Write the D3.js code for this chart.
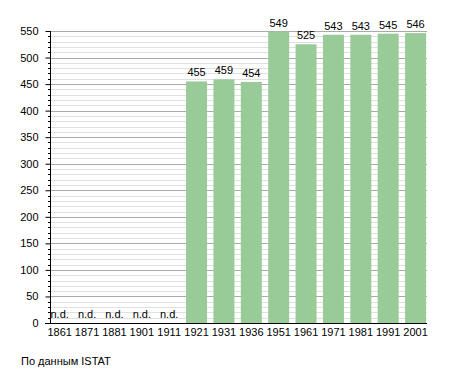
<!DOCTYPE html>
<html>
<head>
<meta charset="utf-8">
<script src="https://cdn.jsdelivr.net/npm/d3@7"></script>
<style>
  body { margin: 0; background: #fff; }
  text { font-family: "Liberation Sans", Arial, sans-serif; font-size: 11px; fill: #000; }
</style>
</head>
<body>
<script>
const years = ['1861', '1871', '1881', '1901', '1911', '1921', '1931', '1936', '1951', '1961', '1971', '1981', '1991', '2001'];
const population = [null, null, null, null, null, 455, 459, 454, 549, 525, 543, 543, 545, 546];
const yTicks = [0, 50, 100, 150, 200, 250, 300, 350, 400, 450, 500, 550];
const source = 'По данным  ISTAT';

const width = 455, height = 373;
const axisX = 50, plotRight = 427;

const svg = d3.select('body').append('svg')
  .attr('width', width)
  .attr('height', height);

const x = d3.scaleBand()
  .domain(years)
  .range([46, 429.25])
  .paddingInner(0.233)
  .paddingOuter(0.1165);

const y = d3.scaleLinear()
  .domain([0, 550])
  .range([323, 31]);

// minor grid every 10
svg.append('g')
  .selectAll('line')
  .data(d3.range(10, 551, 10).filter(v => v % 50 !== 0))
  .enter().append('line')
  .attr('x1', axisX).attr('x2', plotRight)
  .attr('y1', d => Math.round(y(d)) + 0.5).attr('y2', d => Math.round(y(d)) + 0.5)
  .attr('stroke', '#e0e0e0');

// major grid
svg.append('g')
  .selectAll('line')
  .data(yTicks.slice(1))
  .enter().append('line')
  .attr('x1', axisX).attr('x2', plotRight)
  .attr('y1', d => Math.round(y(d)) + 0.5).attr('y2', d => Math.round(y(d)) + 0.5)
  .attr('stroke', '#aaaaaa');

// bars
svg.append('g')
  .selectAll('rect')
  .data(years.map((yr, i) => ({yr, v: population[i]})).filter(d => d.v !== null))
  .enter().append('rect')
  .attr('x', d => x(d.yr))
  .attr('y', d => y(d.v))
  .attr('width', x.bandwidth())
  .attr('height', d => y(0) - y(d.v))
  .attr('fill', '#98cb98');

// value labels
svg.append('g')
  .selectAll('text')
  .data(years.map((yr, i) => ({yr, v: population[i]})))
  .enter().append('text')
  .attr('x', d => x(d.yr) + x.bandwidth() / 2)
  .attr('y', d => d.v === null ? y(0) - 5 : y(d.v) - 5)
  .attr('text-anchor', 'middle')
  .text(d => d.v === null ? 'n.d.' : d.v);

// y axis with minor ticks
const yAxis = svg.append('g')
  .attr('transform', `translate(${axisX + 0.5},0)`)
  .call(d3.axisLeft(y).tickValues(yTicks).tickSize(5).tickPadding(7));
yAxis.select('.domain').remove();
yAxis.selectAll('.tick line').attr('stroke', '#000');
yAxis.selectAll('.tick text').attr('font-size', 11).attr('font-family', null);

svg.append('g')
  .selectAll('line')
  .data(d3.range(10, 551, 10).filter(v => v % 50 !== 0))
  .enter().append('line')
  .attr('x1', axisX - 2).attr('x2', axisX)
  .attr('y1', d => Math.round(y(d)) + 0.5).attr('y2', d => Math.round(y(d)) + 0.5)
  .attr('stroke', '#000');

svg.append('line')
  .attr('x1', axisX + 0.5).attr('x2', axisX + 0.5)
  .attr('y1', y(550)).attr('y2', y(0))
  .attr('stroke', '#000');

// x axis
const xAxis = svg.append('g')
  .attr('transform', `translate(0,${y(0)})`)
  .call(d3.axisBottom(x).tickSize(0).tickPadding(5));
xAxis.select('.domain').remove();
xAxis.selectAll('.tick text').attr('font-size', 11).attr('font-family', null);

svg.append('line')
  .attr('x1', 45).attr('x2', plotRight)
  .attr('y1', Math.round(y(0)) + 0.5).attr('y2', Math.round(y(0)) + 0.5)
  .attr('stroke', '#000');

svg.append('text')
  .attr('x', 21)
  .attr('y', 365)
  .text(source);
</script>
</body>
</html>
